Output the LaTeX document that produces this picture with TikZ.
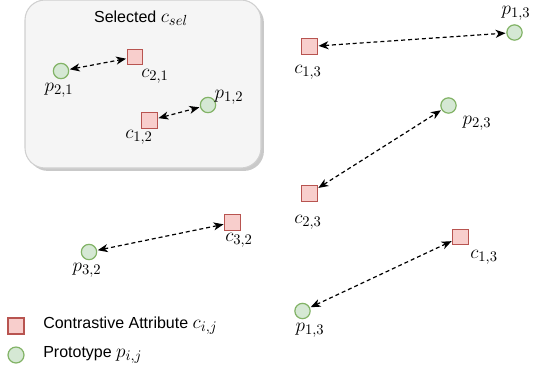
\documentclass[tikz,border=0pt]{standalone}
\usepackage{fontspec}
\setmainfont{Liberation Sans}
\usetikzlibrary{arrows.meta,shadows}
\definecolor{cfill}{HTML}{F8CECC}
\definecolor{cdraw}{HTML}{B85450}
\definecolor{pfill}{HTML}{D5E8D4}
\definecolor{pdraw}{HTML}{82B366}
\definecolor{boxfill}{HTML}{F5F5F5}
\definecolor{boxdraw}{HTML}{D0D0D0}
\newcommand{\largemath}[1]{{\fontsize{15}{16}\selectfont$#1$}}
\tikzset{
  attr/.style={rectangle, draw=cdraw, fill=cfill, line width=0.9pt, minimum size=11.5pt, inner sep=0pt},
  proto/.style={circle, draw=pdraw, fill=pfill, line width=0.9pt, minimum size=11.5pt, inner sep=0pt},
  lbl/.style={inner sep=0pt, font=\fontsize{15}{16}\selectfont},
  link/.style={dash pattern=on 3pt off 2.2pt, line width=0.9pt, {Stealth[length=7.5pt,width=6pt,inset=2.2pt]}-{Stealth[length=7.5pt,width=6pt,inset=2.2pt]}, shorten <=0.5pt, shorten >=0.5pt},
  legtext/.style={anchor=west, inner sep=0pt, font=\fontsize{12}{14}\selectfont}
}
\begin{document}
\begin{tikzpicture}[x=0.75pt,y=-0.75pt]
\useasboundingbox (0,0) rectangle (534,376);
% selected box
\node[draw=boxdraw, fill=boxfill, rounded corners=15pt, line width=0.8pt,
      minimum width=177pt, minimum height=126pt, inner sep=0pt,
      drop shadow={shadow xshift=2.2pt, shadow yshift=-2.2pt, fill=black!30, opacity=0.7}]
      (box) at (143,84) {};
\node[inner sep=0pt, font=\fontsize{12}{14}\selectfont] (title) at (141,18) {Selected \largemath{c_{sel}}};
% nodes in box
\node[proto] (p21) at (61,71) {};
\node[lbl] (lp21) at (59,90) {$p_{2,1}$};
\node[attr] (c21) at (135,57) {};
\node[lbl] (lc21) at (155,76) {$c_{2,1}$};
\node[proto] (p12) at (208,105) {};
\node[lbl] (lp12) at (229,97) {$p_{1,2}$};
\node[attr] (c12) at (149.5,120.5) {};
\node[lbl] (lc12) at (139,137) {$c_{1,2}$};
\draw[link] (p21) -- (c21);
\draw[link] (c12) -- (p12);
% right region
\node[attr] (c13a) at (309.5,46.5) {};
\node[lbl] (lc13a) at (308,72) {$c_{1,3}$};
\node[proto] (p13a) at (514.5,32.5) {};
\node[lbl] (lp13a) at (516,13) {$p_{1,3}$};
\draw[link] (c13a) -- (p13a);
\node[proto] (p23) at (448.5,105.5) {};
\node[lbl] (lp23) at (477,123) {$p_{2,3}$};
\node[attr] (c23) at (309.5,193.5) {};
\node[lbl] (lc23) at (308,222) {$c_{2,3}$};
\draw[link] (c23) -- (p23);
% bottom
\node[attr] (c32) at (232.5,222.5) {};
\node[lbl] (lc32) at (239,240) {$c_{3,2}$};
\node[proto] (p32) at (89,252) {};
\node[lbl] (lp32) at (87,270) {$p_{3,2}$};
\draw[link] (p32) -- (c32);
\node[attr] (c13b) at (460.5,237) {};
\node[lbl] (lc13b) at (484,257) {$c_{1,3}$};
\node[proto] (p13b) at (302.5,311) {};
\node[lbl] (lp13b) at (310,330) {$p_{1,3}$};
\draw[link] (p13b) -- (c13b);
% legend
\node[attr, minimum size=12pt] (legc) at (16,326) {};
\node[legtext] (legct) at (43,326) {Contrastive Attribute \largemath{c_{i,j}}};
\node[proto, minimum size=12pt] (legp) at (16,355) {};
\node[legtext] (legpt) at (43,355) {Prototype \largemath{p_{i,j}}};
\end{tikzpicture}
\end{document}
